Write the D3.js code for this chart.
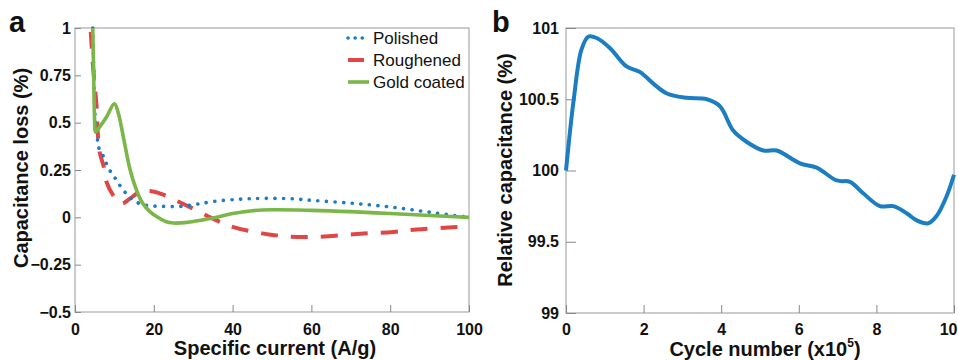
<!DOCTYPE html>
<html>
<head>
<meta charset="utf-8">
<script src="https://cdn.jsdelivr.net/npm/d3@7"></script>
<style>
  body { margin: 0; background: #fff; }
  svg { font-family: "Liberation Sans", Arial, sans-serif; }
  .axis text { font-family: "Liberation Sans", Arial, sans-serif; font-weight: bold; font-size: 16px; fill: #111; }
  .axis line { stroke: #888; }
  .axis path { display: none; }
  .title { font-weight: bold; font-size: 20px; fill: #111; }
  .panel { font-weight: bold; font-size: 29px; fill: #111; }
  .legend text { font-size: 17px; fill: #111; }
</style>
</head>
<body>
<script>
// panel a: capacitance loss vs specific current
var polished = [[4.5,1.0],[4.8,0.75],[5.2,0.5],[5.8,0.4],[6.3,0.35],[7.6,0.31],[8.1,0.275],[9.4,0.23],[10.6,0.195],
  [12,0.15],[13.5,0.115],[14.8,0.09],[16.5,0.072],[18.2,0.063],[22,0.058],[27,0.058],[31,0.07],[36,0.086],
  [42,0.096],[47,0.1],[55,0.098],[60,0.09],[70,0.075],[80,0.055],[90,0.027],[100,0]];
var roughened = [[4,0.98],[4.6,0.79],[5.5,0.58],[5.8,0.44],[6.3,0.34],[7.2,0.275],[8,0.187],[9.7,0.116],[11.8,0.072],
  [14,0.1],[16.5,0.134],[19.8,0.137],[22.4,0.12],[26,0.085],[29.2,0.054],[35,-0.007],[40,-0.05],[47.8,-0.086],
  [54.6,-0.102],[62,-0.103],[71.5,-0.088],[80.8,-0.077],[86.7,-0.064],[96.9,-0.051],[100,-0.046]];
var goldCoated = [[4.5,1.0],[4.7,0.8],[5.0,0.5],[5.2,0.45],[6,0.47],[8,0.53],[10,0.6],[11,0.55],[12.5,0.4],
  [14,0.25],[15.5,0.15],[17,0.08],[19,0.03],[21,0.0],[23,-0.022],[25,-0.03],[28,-0.028],[32,-0.015],[36,0.0],
  [40,0.02],[45,0.035],[50,0.04],[60,0.037],[70,0.03],[80,0.02],[90,0.01],[100,0]];
var ticksA_x = [0, 20, 40, 60, 80, 100];
var ticksA_y = [-0.5, -0.25, 0, 0.25, 0.5, 0.75, 1];
var legendNames = ["Polished", "Roughened", "Gold coated"];

// panel b: relative capacitance vs cycle number (x10^5)
var cycles = [0, 0.2, 0.4, 0.58, 0.79, 1.13, 1.56, 1.91, 2.25, 2.6, 3.11, 3.63, 3.97, 4.31, 4.66, 5.09, 5.43,
  6.03, 6.46, 6.98, 7.32, 7.66, 8.09, 8.44, 8.78, 9.04, 9.34, 9.55, 9.81, 10];
var relCap = [100.0, 100.5, 100.85, 100.94, 100.93, 100.86, 100.73, 100.69, 100.61, 100.54, 100.51, 100.5, 100.45,
  100.28, 100.2, 100.14, 100.14, 100.05, 100.02, 99.93, 99.92, 99.84, 99.75, 99.75, 99.7, 99.65, 99.63, 99.68, 99.82, 99.97];
var ticksB_x = [0, 2, 4, 6, 8, 10];
var ticksB_y = [99, 99.5, 100, 100.5, 101];

var svg = d3.select("body").append("svg").attr("width", 958).attr("height", 360);

// ---------- panel a ----------
var ax = {left: 75, right: 469, top: 28, bottom: 312};
var xa = d3.scaleLinear().domain([0, 100]).range([ax.left, ax.right]);
var ya = d3.scaleLinear().domain([-0.5, 1]).range([ax.bottom, ax.top]);

svg.append("rect").attr("x", ax.left).attr("y", ax.top)
  .attr("width", ax.right - ax.left).attr("height", ax.bottom - ax.top)
  .attr("fill", "none").attr("stroke", "#999");

svg.append("g").attr("class", "axis")
  .attr("transform", "translate(0," + ax.bottom + ")")
  .call(d3.axisBottom(xa).tickValues(ticksA_x).tickSize(-7).tickPadding(12));
svg.append("g").attr("class", "axis")
  .attr("transform", "translate(" + ax.left + ",0)")
  .call(d3.axisLeft(ya).tickValues(ticksA_y).tickSize(-6).tickPadding(4).tickFormat(d3.format("")));

var lineAc = d3.line().x(d => xa(d[0])).y(d => ya(d[1])).curve(d3.curveCatmullRom.alpha(0.5));

svg.append("path").datum(roughened).attr("d", lineAc)
  .attr("fill", "none").attr("stroke", "#e04646").attr("stroke-width", 4)
  .attr("stroke-dasharray", "17,13");
svg.append("path").datum(polished).attr("d", lineAc)
  .attr("fill", "none").attr("stroke", "#1d7cc4").attr("stroke-width", 3.6)
  .attr("stroke-linecap", "round").attr("stroke-dasharray", "0.1,8.5");
svg.append("path").datum(goldCoated).attr("d", lineAc)
  .attr("fill", "none").attr("stroke", "#7ab648").attr("stroke-width", 3.6);

// legend
var leg = svg.append("g").attr("class", "legend");
var legStyles = [
  {c: "#1d7cc4", w: 3.6, dash: "0.1,7", cap: "round", x2: 368},
  {c: "#e04646", w: 4, dash: null, cap: "butt", x2: 364},
  {c: "#7ab648", w: 3.6, dash: null, cap: "butt", x2: 369}
];
legendNames.forEach(function (name, i) {
  var yy = 38 + i * 22;
  var s = legStyles[i];
  leg.append("line").attr("x1", 348).attr("x2", s.x2).attr("y1", yy).attr("y2", yy)
    .attr("stroke", s.c).attr("stroke-width", s.w)
    .attr("stroke-linecap", s.cap).attr("stroke-dasharray", s.dash);
  leg.append("text").attr("x", 373).attr("y", yy).attr("dy", "0.36em").text(name);
});

svg.append("text").attr("class", "title").attr("text-anchor", "middle")
  .attr("x", (ax.left + ax.right) / 2 + 3).attr("y", 355).text("Specific current (A/g)");
svg.append("text").attr("class", "title").attr("text-anchor", "middle")
  .attr("transform", "translate(28,168)rotate(-90)").text("Capacitance loss (%)");
svg.append("text").attr("class", "panel").attr("x", 9).attr("y", 32).text("a");

// ---------- panel b ----------
var bx = {left: 566, right: 954, top: 28, bottom: 313};
var xb = d3.scaleLinear().domain([0, 10]).range([bx.left, bx.right]);
var yb = d3.scaleLinear().domain([99, 101]).range([bx.bottom, bx.top]);

svg.append("rect").attr("x", bx.left).attr("y", bx.top)
  .attr("width", bx.right - bx.left).attr("height", bx.bottom - bx.top)
  .attr("fill", "none").attr("stroke", "#999");

var xAxisB = svg.append("g").attr("class", "axis")
  .attr("transform", "translate(0," + bx.bottom + ")")
  .call(d3.axisBottom(xb).tickValues(ticksB_x).tickSize(-8).tickPadding(11));
// last label sits at the page edge; pull it in so it is not clipped
xAxisB.selectAll(".tick text").filter(d => d === 10).attr("text-anchor", "end").attr("x", 3);
svg.append("g").attr("class", "axis")
  .attr("transform", "translate(" + bx.left + ",0)")
  .call(d3.axisLeft(yb).tickValues(ticksB_y).tickSize(-10).tickPadding(7).tickFormat(d3.format("")));

var lineB = d3.line().x(d => xb(d[0])).y(d => yb(d[1])).curve(d3.curveCatmullRom.alpha(0.5));
svg.append("path").datum(d3.zip(cycles, relCap)).attr("d", lineB)
  .attr("fill", "none").attr("stroke", "#1b7dc2").attr("stroke-width", 4);

var tb = svg.append("text").attr("class", "title").attr("text-anchor", "middle")
  .attr("x", (bx.left + bx.right) / 2 + 5).attr("y", 356);
tb.append("tspan").text("Cycle number (x10");
tb.append("tspan").attr("font-size", "12px").attr("dy", "-9").text("5");
tb.append("tspan").attr("dy", "9").text(")");
svg.append("text").attr("class", "title").attr("text-anchor", "middle")
  .attr("transform", "translate(512,170)rotate(-90)").text("Relative capacitance (%)");
svg.append("text").attr("class", "panel").attr("x", 492).attr("y", 32).text("b");
</script>
</body>
</html>
